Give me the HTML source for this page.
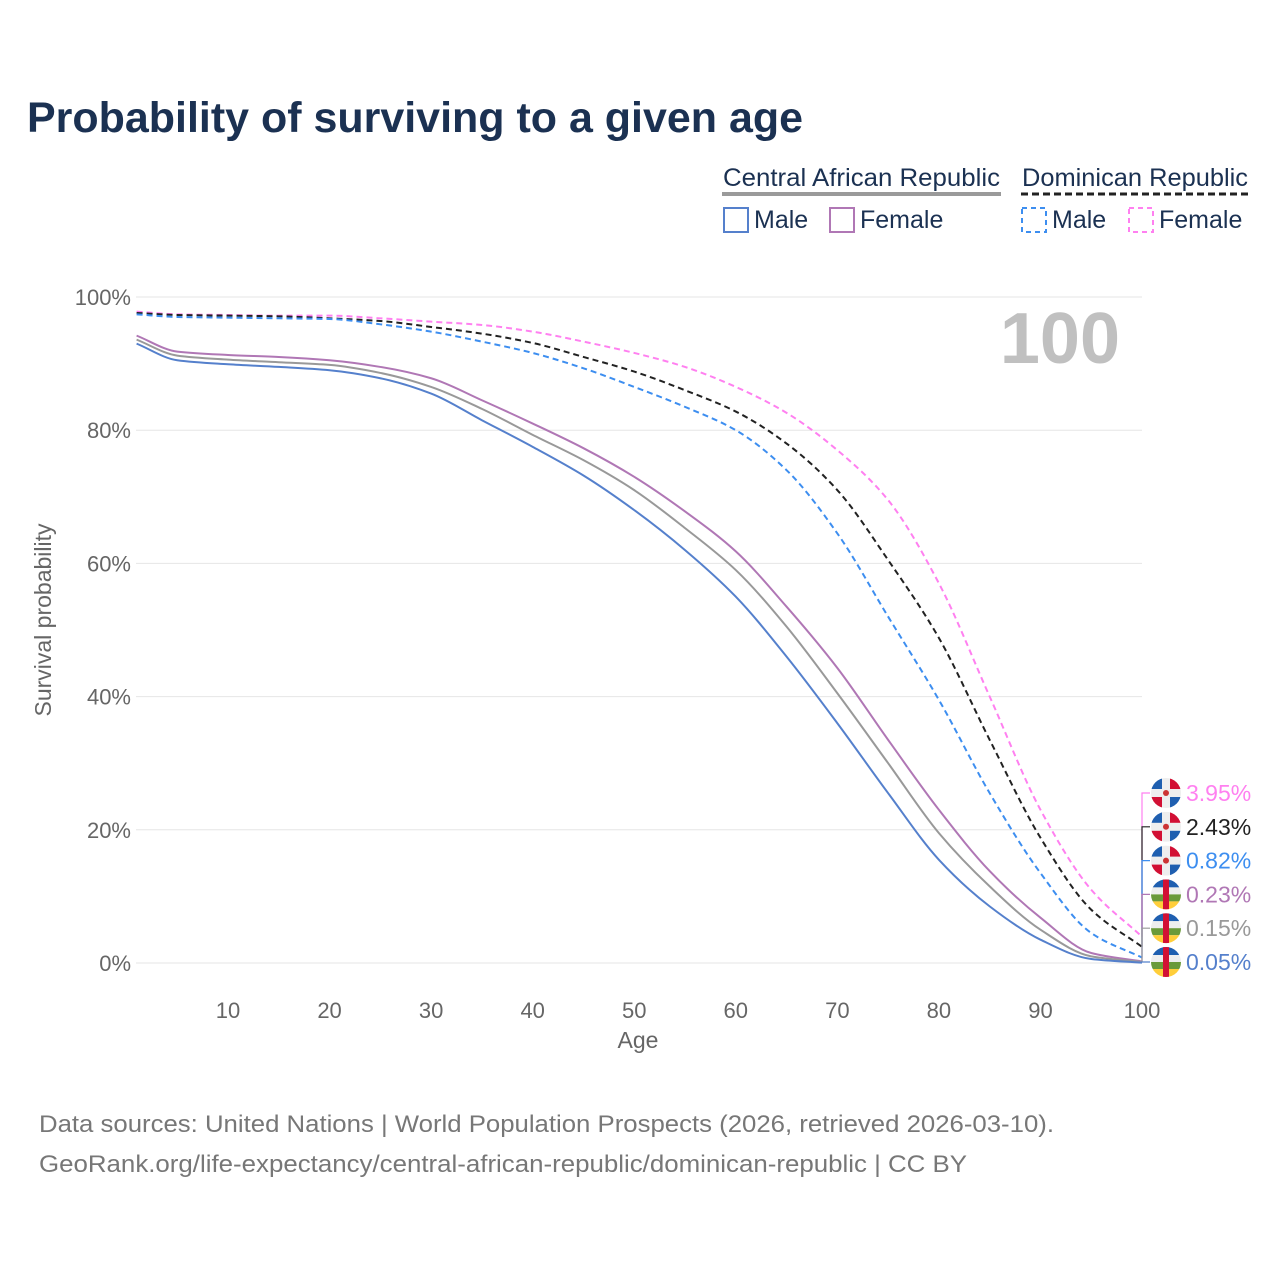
<!DOCTYPE html>
<html><head><meta charset="utf-8"><style>
body{margin:0;background:#fff;font-family:"Liberation Sans",sans-serif;}
svg text{font-family:"Liberation Sans",sans-serif;}
</style></head><body>
<svg id="chart" width="1280" height="1280" xmlns="http://www.w3.org/2000/svg">
<rect width="1280" height="1280" fill="#fff"/>
<text x="27" y="132" font-size="43" font-weight="bold" fill="#1b3152" textLength="776" lengthAdjust="spacingAndGlyphs">Probability of surviving to a given age</text>
<g font-size="25" fill="#1b3152">
 <text x="723" y="186" fill="#1b3152" textLength="277" lengthAdjust="spacingAndGlyphs">Central African Republic</text>
 <rect x="722" y="192" width="279" height="4" fill="#9a9a9a"/>
 <text x="1022" y="186" fill="#1b3152" textLength="226" lengthAdjust="spacingAndGlyphs">Dominican Republic</text>
 <line x1="1021" y1="194" x2="1248" y2="194" stroke="#222" stroke-width="3" stroke-dasharray="7,4"/>
 <g><rect x="724" y="208" width="24" height="24" fill="none" stroke="#5580cc" stroke-width="2"/><text x="754" y="228" fill="#1b3152">Male</text></g>
 <g><rect x="830" y="208" width="24" height="24" fill="none" stroke="#b077b5" stroke-width="2"/><text x="860" y="228" fill="#1b3152">Female</text></g>
 <g><rect x="1022" y="208" width="24" height="24" fill="none" stroke="#3d8ef0" stroke-width="2" stroke-dasharray="5,4"/><text x="1052" y="228" fill="#1b3152">Male</text></g>
 <g><rect x="1129" y="208" width="24" height="24" fill="none" stroke="#ff80f0" stroke-width="2" stroke-dasharray="5,4"/><text x="1159" y="228" fill="#1b3152">Female</text></g>
</g>
<text x="1120" y="363" font-size="72" font-weight="bold" fill="#c0c0c0" text-anchor="end">100</text>
<g id="axes"></g>
<g id="series"></g>
<g id="endlabels"></g>
<text transform="translate(51,620) rotate(-90)" font-size="23" fill="#666" text-anchor="middle">Survival probability</text>
<text x="638" y="1048" font-size="23" fill="#666" text-anchor="middle">Age</text>
<text x="39" y="1132" font-size="24" fill="#777" textLength="1015" lengthAdjust="spacingAndGlyphs">Data sources: United Nations | World Population Prospects (2026, retrieved 2026-03-10).</text>
<text x="39" y="1172" font-size="24" fill="#777" textLength="928" lengthAdjust="spacingAndGlyphs">GeoRank.org/life-expectancy/central-african-republic/dominican-republic | CC BY</text>
</svg>
<script>
const ages=[1,5,10,15,20,25,30,35,40,45,50,55,60,65,70,75,80,85,90,95,100];
const carMale=[93.0,90.5,89.9,89.5,89.0,87.8,85.5,81.5,77.5,73.2,68,62,55,46,36,25.5,15.5,8.5,3.5,0.6,0.05];
const carTotal=[93.6,91.2,90.6,90.2,89.8,88.6,86.5,83.2,79.3,75.5,71,65.3,59,50.5,40.5,30,19.5,11.5,5,1,0.15];
const carFemale=[94.2,91.8,91.3,91,90.5,89.5,87.8,84.5,81,77.3,73,67.8,61.8,53.5,44.3,33.5,23,13.8,6.8,1.5,0.23];
const drMale=[97.4,97,96.9,96.8,96.7,95.9,94.8,93.3,91.6,89.3,86.5,83.5,80,74,64.5,52,39.5,25.5,13.5,4.5,0.82];
const drTotal=[97.6,97.3,97.2,97.1,96.8,96.4,95.5,94.5,93.1,91,88.8,86,82.8,78,71,60.5,48.8,33.5,18.8,8,2.43];
const drFemale=[97.8,97.4,97.3,97.2,97.2,96.8,96.3,95.8,94.8,93.3,91.6,89.5,86.5,82.6,77,69.5,57,40,23,11,3.95];
const xTicks=[10,20,30,40,50,60,70,80,90,100];
const yTicks=[0,20,40,60,80,100];
const NS='http://www.w3.org/2000/svg';
const X=a=>228+(a-10)*10.156;
const Y=p=>963-p*6.66;
function mk(tag,attrs,parent){const e=document.createElementNS(NS,tag);for(const k in attrs)e.setAttribute(k,attrs[k]);parent.appendChild(e);return e;}
const axes=document.getElementById('axes');
yTicks.forEach(t=>{
 const l=mk('line',{x1:136,x2:1142,y1:Y(t),y2:Y(t),stroke:'#e6e6e6','stroke-width':1},axes);
 
 
 const tx=mk('text',{x:131,y:Y(t)+8,'font-size':22,fill:'#666','text-anchor':'end'},axes);
 tx.textContent=t+'%';
 
 
});
xTicks.forEach(t=>{
 const tx=mk('text',{x:X(t),y:1018,'font-size':22,fill:'#666','text-anchor':'middle'},axes);
 tx.textContent=t;
 
 
});
function path(vals){
 const xs=ages.map(X), ys=vals.map(Y), n=xs.length;
 const d=[],m=new Array(n);
 for(let i=0;i<n-1;i++)d.push((ys[i+1]-ys[i])/(xs[i+1]-xs[i]));
 m[0]=d[0];m[n-1]=d[n-2];
 for(let i=1;i<n-1;i++){
  if(d[i-1]*d[i]<=0)m[i]=0;
  else{const h0=xs[i]-xs[i-1],h1=xs[i+1]-xs[i];const w1=2*h1+h0,w2=h1+2*h0;m[i]=(w1+w2)/(w1/d[i-1]+w2/d[i]);}
 }
 let s='M'+xs[0]+','+ys[0];
 for(let i=0;i<n-1;i++){
  const h=xs[i+1]-xs[i];
  s+=` C${xs[i]+h/3},${ys[i]+m[i]*h/3} ${xs[i+1]-h/3},${ys[i+1]-m[i+1]*h/3} ${xs[i+1]},${ys[i+1]}`;
 }
 return s;
}
const series=[
 {v:carFemale,c:'#b077b5',dash:null,n:'car-female-line'},
 {v:carTotal,c:'#999999',dash:null,n:'car-total-line'},
 {v:carMale,c:'#5580cc',dash:null,n:'car-male-line'},
 {v:drFemale,c:'#ff80f0',dash:'6,4',n:'dr-female-line'},
 {v:drTotal,c:'#222222',dash:'6,4',n:'dr-total-line'},
 {v:drMale,c:'#3d8ef0',dash:'6,4',n:'dr-male-line'}
];
const sg=document.getElementById('series');
series.forEach(s=>{
 const p=mk('path',{d:path(s.v),fill:'none',stroke:s.c,'stroke-width':2},sg);
 if(s.dash)p.setAttribute('stroke-dasharray',s.dash);
 
 
});
const labels=[
 {v:drFemale,c:'#ff80f0',f:'dr'},{v:drTotal,c:'#222',f:'dr'},{v:drMale,c:'#3d8ef0',f:'dr'},
 {v:carFemale,c:'#b077b5',f:'car'},{v:carTotal,c:'#999',f:'car'},{v:carMale,c:'#5580cc',f:'car'}
];
const eg=document.getElementById('endlabels');
labels.forEach((L,i)=>{
 const ly=793+i*33.8;
 const last=L.v[L.v.length-1];
 const pl=mk('polyline',{points:`1142,${Y(last)} 1142,${ly} 1150,${ly}`,fill:'none',stroke:L.c,'stroke-width':1.2},eg);
 
 
 const g=mk('g',{transform:`translate(1166,${ly})`},eg);
 
 
 mk('clipPath',{id:'cp'+i},g).appendChild(document.createElementNS(NS,'circle')).setAttribute('r',15);
 const inner=mk('g',{'clip-path':`url(#cp${i})`},g);
 if(L.f==='dr'){
  mk('rect',{x:-15,y:-15,width:30,height:30,fill:'#eee'},inner);
  mk('rect',{x:-15,y:-15,width:11,height:11,fill:'#1f5fb0'},inner);
  mk('rect',{x:4,y:-15,width:11,height:11,fill:'#d21034'},inner);
  mk('rect',{x:-15,y:4,width:11,height:11,fill:'#d21034'},inner);
  mk('rect',{x:4,y:4,width:11,height:11,fill:'#1f5fb0'},inner);
  mk('circle',{r:3,fill:'#c33'},inner);
 }else{
  mk('rect',{x:-15,y:-15,width:30,height:8,fill:'#1f5fb0'},inner);
  mk('rect',{x:-15,y:-7,width:30,height:7,fill:'#eee'},inner);
  mk('rect',{x:-15,y:0,width:30,height:7,fill:'#6a9a3a'},inner);
  mk('rect',{x:-15,y:7,width:30,height:8,fill:'#ffce3a'},inner);
  mk('rect',{x:-3,y:-15,width:6,height:30,fill:'#d21034'},inner);
 }
 const t=mk('text',{x:1186,y:ly+8,'font-size':23,fill:L.c},eg);
 t.textContent=last.toFixed(2)+'%';
 
 
});
</script>
</body></html>
